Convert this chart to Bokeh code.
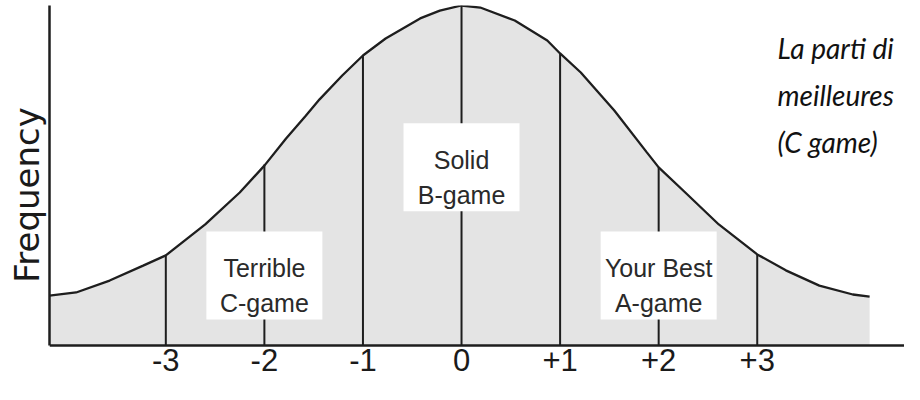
from bokeh.plotting import figure
from bokeh.models import Range1d, FixedTicker, Title
from bokeh.core.properties import value
from bokeh.embed import file_html
from bokeh.resources import INLINE

# ---------------- data ----------------
sigma = [-3, -2, -1, 0, 1, 2, 3]
sigma_labels = ["-3", "-2", "-1", "0", "+1", "+2", "+3"]
sigma_heights = [26.5, 53.2, 85.3, 100.0, 85.9, 52.4, 26.8]

curve_sigma = [-4.18, -3.91, -3.57, -3.23, -3.0, -2.6, -2.25, -2.0, -1.78, -1.58,
               -1.44, -1.21, -1.0, -0.77, -0.42, -0.22, 0.0, 0.19, 0.54, 0.87,
               1.0, 1.21, 1.55, 1.88, 2.0, 2.27, 2.61, 3.0, 3.29, 3.63, 3.97, 4.14]
curve_freq = [14.7, 15.6, 19.1, 23.5, 26.5, 35.6, 45.0, 52.9, 60.9, 67.6,
              72.4, 79.4, 85.3, 90.3, 96.2, 98.5, 100.0, 99.4, 95.6, 89.7,
              85.9, 80.3, 69.1, 56.8, 52.4, 45.0, 35.6, 26.8, 22.1, 17.6, 15.0, 14.4]

band_centers = [-2, 0, 2]
band_line1 = ["Terrible", "Solid", "Your Best"]
band_line2 = ["C-game", "B-game", "A-game"]

note_lines = ["La parti di", "meilleures", "(C game)"]

# ---------------- layout ----------------
PX = 3.4                      # px per frequency unit
X0, X1 = -4.18, 4.494
box_y = [20.6, 52.4, 20.6]    # box centres (frequency units)
box_w, box_h = 1.177, 88 / PX
note_x = 3.206
note_y = [87.6, 73.8, 60.0]

INK = "#1e1e1e"
FILL = "#e4e4e4"
SANS = "Liberation Sans"

p = figure(width=904, height=384, output_backend="svg", toolbar_location=None,
           x_range=Range1d(X0, X1), y_range=Range1d(-39 / PX, 100),
           min_border_left=49, min_border_bottom=0, min_border_top=5, min_border_right=0)
p.outline_line_color = None
p.grid.visible = False
p.background_fill_color = "white"
p.border_fill_color = "white"

# area under the curve
p.varea(x=curve_sigma, y1=0, y2=curve_freq, fill_color=FILL)
# vertical sigma lines
p.segment(x0=sigma, y0=[0] * len(sigma), x1=sigma, y1=sigma_heights,
          line_color=INK, line_width=2)
# the curve
p.line(curve_sigma, curve_freq, line_color=INK, line_width=2.3)

# white label boxes
p.rect(x=band_centers, y=box_y, width=box_w, height=box_h,
       fill_color="white", line_color=None)
p.text(x=band_centers, y=[b + 7 / PX for b in box_y], text=band_line1,
       text_font=value(SANS), text_font_size="25px", text_color="#2a2a2a",
       text_align="center", text_baseline="alphabetic")
p.text(x=band_centers, y=[b - 28 / PX for b in box_y], text=band_line2,
       text_font=value(SANS), text_font_size="25px", text_color="#2a2a2a",
       text_align="center", text_baseline="alphabetic")

# side note
p.text(x=[note_x] * len(note_lines), y=note_y, text=note_lines,
       text_font=value("Lato"), text_font_style="italic", text_font_size="28px",
       text_color="#111111", text_align="left", text_baseline="alphabetic")

# x axis drawn on the zero line
xa = p.xaxis[0]
xa.fixed_location = 0
xa.bounds = (X0, X1)
xa.ticker = FixedTicker(ticks=sigma)
xa.major_label_overrides = {s: l for s, l in zip(sigma, sigma_labels)}
xa.major_tick_line_color = None
xa.minor_tick_line_color = None
xa.major_tick_out = 0
xa.major_tick_in = 0
xa.major_label_standoff = 3
xa.major_label_text_font = SANS
xa.major_label_text_font_size = "31px"
xa.major_label_text_color = "#1a1a1a"
xa.axis_line_color = INK
xa.axis_line_width = 2.5

ya = p.yaxis[0]
ya.bounds = (0, 100)
ya.ticker = FixedTicker(ticks=[])
ya.major_tick_line_color = None
ya.minor_tick_line_color = None
ya.major_tick_out = 0
ya.major_tick_in = 0
ya.axis_line_color = INK
ya.axis_line_width = 2.5

p.add_layout(Title(text="Frequency", text_font="DejaVu Sans", text_font_size="34px",
                   text_font_style="normal", text_color="#1a1a1a",
                   align="center", offset=-22, standoff=6), "left")

open("out.html", "w").write(file_html(p, INLINE))
